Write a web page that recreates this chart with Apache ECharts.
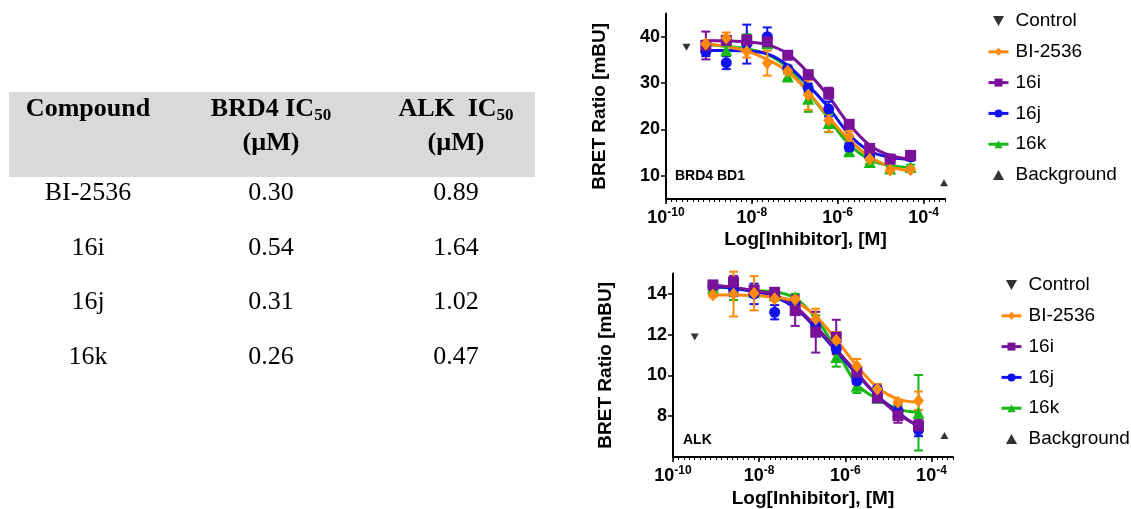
<!DOCTYPE html>
<html><head><meta charset="utf-8">
<script src="https://cdn.jsdelivr.net/npm/echarts@6/dist/echarts.min.js"></script>
<style>html,body{margin:0;padding:0;background:#fff}#c{width:1131px;height:509px}</style>
</head><body><div id="c"></div>
<script>
// ---------- data ----------
const concentrations = [8.47e-10, 2.54e-9, 7.62e-9, 2.29e-8, 6.86e-8, 2.06e-7, 6.17e-7, 1.85e-6, 5.56e-6, 1.67e-5, 5.0e-5];
const compounds = ['BI-2536', '16i', '16j', '16k'];
const brd4IC50 = ['0.30', '0.54', '0.31', '0.26'];
const alkIC50 = ['0.89', '1.64', '1.02', '0.47'];
const xTickExponents = [-10, -8, -6, -4];
const brd4YTicks = [10, 20, 30, 40];
const alkYTicks = [8, 10, 12, 14];

// BRD4 BD1 panel: means, error half-widths, fitted curve
const brd4Mean_BI2536 = [38.4, 39.7, 36.8, 34.3, 32.6, 27.4, 22.0, 18.6, 13.6, 11.2, 11.3];
const brd4Err_BI2536  = [0.8, 1.2, 1.3, 2.7, 0.6, 3.2, 2.5, 1.0, 1.0, 0.5, 0.5];
const brd4Fit_BI2536  = [38.5, 37.9, 36.9, 35.1, 32.5, 28.1, 22.6, 17.8, 14.1, 12.0, 11.0];
const brd4Mean_16i = [38.1, 39.2, 39.3, 38.9, 36.0, 31.8, 27.8, 21.1, 15.9, 13.6, 14.4];
const brd4Err_16i  = [3.0, 0.8, 0.8, 1.0, 0.5, 0.8, 1.2, 0.8, 0.5, 0.5, 0.6];
const brd4Fit_16i  = [39.2, 39.1, 38.9, 38.3, 36.3, 32.2, 27.1, 21.1, 16.6, 14.4, 13.6];
const brd4Mean_16j = [36.8, 34.4, 38.4, 40.0, 33.1, 28.9, 24.4, 16.2, 14.1, 13.6, 14.1];
const brd4Err_16j  = [1.0, 1.4, 4.2, 2.0, 0.6, 1.0, 1.6, 0.8, 0.6, 0.5, 0.8];
const brd4Fit_16j  = [37.0, 37.0, 36.9, 36.3, 33.8, 29.5, 24.7, 18.9, 15.3, 14.0, 13.5];
const brd4Mean_16k = [37.9, 37.1, 39.5, 38.6, 31.4, 26.6, 21.4, 15.3, 13.0, 11.6, 11.9];
const brd4Err_16k  = [0.8, 0.9, 1.0, 1.0, 0.6, 2.8, 2.0, 0.8, 0.8, 0.6, 0.5];
const brd4Fit_16k  = [38.3, 37.9, 37.4, 36.2, 33.3, 28.0, 22.3, 16.8, 13.5, 12.2, 11.8];
const brd4Control = [3.0e-10, 37.7];
const brd4Background = [3.0e-4, 8.5];

// ALK panel
const alkMean_BI2536 = [13.95, 13.99, 14.03, 13.76, 13.71, 12.77, 11.73, 10.46, 9.33, 8.68, 8.76];
const alkErr_BI2536  = [0.1, 1.1, 0.84, 0.1, 0.15, 0.5, 0.4, 0.35, 0.25, 0.1, 0.45];
const alkFit_BI2536  = [13.95, 13.95, 13.92, 13.84, 13.63, 12.9, 11.77, 10.47, 9.41, 8.84, 8.68];
const alkMean_16i = [14.44, 14.58, 14.19, 14.08, 13.18, 12.12, 11.88, 10.17, 8.90, 8.03, 7.53];
const alkErr_16i  = [0.1, 0.3, 0.15, 0.1, 0.75, 1.0, 0.85, 0.2, 0.15, 0.35, 0.3];
const alkFit_16i  = [14.44, 14.32, 14.16, 13.95, 13.38, 12.41, 11.27, 10.14, 9.0, 8.11, 7.54];
const alkMean_16j = [14.4, 14.2, 14.0, 13.1, 13.55, 12.45, 11.3, 9.73, 9.33, 8.27, 7.32];
const alkErr_16j  = [0.1, 0.3, 0.5, 0.35, 0.3, 0.3, 0.2, 0.15, 0.2, 0.3, 0.3];
const alkFit_16j  = [14.36, 14.28, 14.11, 13.87, 13.3, 12.33, 11.2, 10.06, 9.0, 8.19, 7.46];
const alkMean_16k = [14.3, 14.25, 14.1, 13.95, 13.85, 12.65, 10.9, 9.49, 8.9, 8.27, 8.17];
const alkErr_16k  = [0.1, 0.55, 0.2, 0.1, 0.15, 0.3, 0.47, 0.35, 0.15, 0.2, 1.85];
const alkFit_16k  = [14.32, 14.28, 14.16, 14.11, 13.79, 12.82, 11.27, 9.57, 8.84, 8.35, 8.19];
const alkControl = [3.2e-10, 11.88];
const alkBackground = [2.0e-4, 7.06];

// ---------- styling ----------
const SANS = 'Liberation Sans, Arial, sans-serif';
const SERIF = 'Liberation Serif, Times New Roman, serif';
const styles = {
  'BI-2536': { color: '#FF8A0A', symbol: 'diamond', size: [11, 13] },
  '16i': { color: '#7A1199', symbol: 'rect', size: 11 },
  '16j': { color: '#1212EE', symbol: 'circle', size: 11 },
  '16k': { color: '#15B815', symbol: 'triangle', size: 12 }
};
const drawOrder = ['16k', '16j', '16i', 'BI-2536'];
const downTri = 'path://M0,0L10,0L5,9Z';
const upTri = 'path://M5,0L10,9L0,9Z';

const panels = [
  { means: { 'BI-2536': brd4Mean_BI2536, '16i': brd4Mean_16i, '16j': brd4Mean_16j, '16k': brd4Mean_16k },
    errs: { 'BI-2536': brd4Err_BI2536, '16i': brd4Err_16i, '16j': brd4Err_16j, '16k': brd4Err_16k },
    fits: { 'BI-2536': brd4Fit_BI2536, '16i': brd4Fit_16i, '16j': brd4Fit_16j, '16k': brd4Fit_16k },
    control: brd4Control, background: brd4Background },
  { means: { 'BI-2536': alkMean_BI2536, '16i': alkMean_16i, '16j': alkMean_16j, '16k': alkMean_16k },
    errs: { 'BI-2536': alkErr_BI2536, '16i': alkErr_16i, '16j': alkErr_16j, '16k': alkErr_16k },
    fits: { 'BI-2536': alkFit_BI2536, '16i': alkFit_16i, '16j': alkFit_16j, '16k': alkFit_16k },
    control: alkControl, background: alkBackground }
];

function errRender(color) {
  return function (params, api) {
    const x = api.value(0);
    const p1 = api.coord([x, api.value(1)]);
    const p2 = api.coord([x, api.value(2)]);
    const w = 4.5;
    const st = { stroke: color, lineWidth: 2 };
    return { type: 'group', children: [
      { type: 'line', shape: { x1: p1[0], y1: p1[1], x2: p2[0], y2: p2[1] }, style: st },
      { type: 'line', shape: { x1: p1[0] - w, y1: p1[1], x2: p1[0] + w, y2: p1[1] }, style: st },
      { type: 'line', shape: { x1: p2[0] - w, y1: p2[1], x2: p2[0] + w, y2: p2[1] }, style: st }
    ] };
  };
}

const series = [];
panels.forEach((p, g) => {
  const xi = g * 3, yi = g;
  drawOrder.forEach((name, k) => {
    const s = styles[name];
    series.push({ name, type: 'line', xAxisIndex: xi, yAxisIndex: yi, smooth: 0.35, showSymbol: false,
      symbol: s.symbol, symbolSize: 8, itemStyle: { color: s.color },
      lineStyle: { color: s.color, width: 3 }, z: 2 + k * 0.01, silent: true,
      data: concentrations.map((c, i) => [c, p.fits[name][i]]) });
  });
  drawOrder.forEach((name, k) => {
    const s = styles[name];
    series.push({ name, type: 'custom', xAxisIndex: xi, yAxisIndex: yi, renderItem: errRender(s.color),
      encode: { x: 0, y: [1, 2] }, z: 3 + k * 0.01, silent: true,
      data: concentrations.map((c, i) => [c, p.means[name][i] - p.errs[name][i], p.means[name][i] + p.errs[name][i]]) });
  });
  drawOrder.forEach((name, k) => {
    const s = styles[name];
    series.push({ name, type: 'scatter', xAxisIndex: xi, yAxisIndex: yi, symbol: s.symbol, symbolSize: s.size,
      itemStyle: { color: s.color, opacity: 1 }, z: 4 + k * 0.01, silent: true,
      data: concentrations.map((c, i) => [c, p.means[name][i]]) });
  });
  series.push({ name: 'Control', type: 'scatter', xAxisIndex: xi, yAxisIndex: yi, symbol: downTri, symbolSize: [8, 7],
    itemStyle: { color: '#000' }, data: [p.control], z: 5, silent: true });
  series.push({ name: 'Background', type: 'scatter', xAxisIndex: xi, yAxisIndex: yi, symbol: upTri, symbolSize: [8, 7],
    itemStyle: { color: '#000' }, data: [p.background], z: 5, silent: true });
});

const grids = [
  { left: 666, top: 13.5, width: 279, height: 185.5 },
  { left: 673, top: 273.5, width: 280, height: 185 }
];
const xNameGap = [31, 32];
const yNameGap = [57, 58];
const xAxes = [], yAxes = [];
grids.forEach((gr, g) => {
  xAxes.push({ type: 'log', logBase: 10, gridIndex: g, min: 1e-10, max: Math.pow(10, -3.5), position: 'bottom',
    axisLine: { show: true, onZero: false, lineStyle: { color: '#000', width: 2 } },
    axisTick: { show: false }, splitLine: { show: false },
    axisLabel: { margin: 8, color: '#000',
      formatter: v => { const e = Math.log10(v), r = Math.round(e);
        if (Math.abs(e - r) > 1e-6 || xTickExponents.indexOf(r) < 0) return '';
        return '{b|10}{s|' + r + '}'; },
      rich: { b: { fontSize: 18, fontWeight: 'bold', fontFamily: SANS, color: '#000', lineHeight: 23 },
              s: { fontSize: 12, fontWeight: 'bold', fontFamily: SANS, color: '#000', verticalAlign: 'top', lineHeight: 23 } } },
    name: 'Log[Inhibitor], [M]', nameLocation: 'middle', nameGap: xNameGap[g],
    nameTextStyle: { fontSize: 19, fontWeight: 'bold', fontFamily: SANS, color: '#000' } });
  xAxes.push({ type: 'value', gridIndex: g, min: -10, max: -3.5, position: 'bottom',
    axisLine: { show: false, onZero: false }, axisLabel: { show: false }, splitLine: { show: false },
    axisTick: { show: true, length: 5, customValues: xTickExponents, lineStyle: { color: '#000', width: 1.5 } } });
  xAxes.push({ type: 'value', gridIndex: g, min: -10, max: -3.5, interval: 0.125, position: 'bottom',
    axisLine: { show: false, onZero: false }, axisLabel: { show: false }, splitLine: { show: false },
    axisTick: { show: true, length: 3, lineStyle: { color: '#000', width: 1 } } });
  const yt = g === 0 ? brd4YTicks : alkYTicks;
  yAxes.push({ type: 'value', gridIndex: g, min: g === 0 ? 5 : 6, max: g === 0 ? 45 : 15, position: 'left',
    axisLine: { show: true, onZero: false, lineStyle: { color: '#000', width: 2 } },
    axisTick: { show: true, length: 5, customValues: yt, lineStyle: { color: '#000', width: 1.5 } },
    axisLabel: { customValues: yt, margin: 6, fontSize: 18, fontWeight: 'bold', fontFamily: SANS, color: '#000' },
    splitLine: { show: false },
    name: 'BRET Ratio [mBU]', nameLocation: 'middle', nameGap: yNameGap[g], nameRotate: 90,
    nameTextStyle: { fontSize: 19, fontWeight: 'bold', fontFamily: SANS, color: '#000' } });
});

const legendNames = ['Control'].concat(compounds, ['Background']);
const legends = [{ left: 982, top: 6, pad: 2 }, { left: 995, top: 270, pad: 2 }].map(pos => ({
  orient: 'vertical', left: pos.left, top: pos.top, data: legendNames, itemWidth: 20, itemHeight: 10, itemGap: 10.8,
  selectedMode: false, lineStyle: { width: 3 },
  textStyle: { fontSize: 19, lineHeight: 20, fontFamily: SANS, color: '#000', padding: [0, 0, 0, pos.pad] }
}));

// table (left)
const colX = [88, 271, 456];
const rowY = [193, 248, 302, 357];
const graphic = [
  { type: 'rect', shape: { x: 9, y: 92, width: 526, height: 85 }, style: { fill: '#d9d9d9' }, z: 0 }
];
function txt(x, y, text, opts) {
  return Object.assign({ type: 'text', z: 1, style: Object.assign({ x, y, text, fill: '#000', align: 'center', textAlign: 'center',
    verticalAlign: 'middle', textVerticalAlign: 'middle', fontFamily: SERIF, fontSize: 26 }, opts || {}) });
}
const subRich = { h: { fontFamily: SERIF, fontSize: 26, fontWeight: 'bold', lineHeight: 30 },
                  s: { fontFamily: SERIF, fontSize: 17, fontWeight: 'bold', lineHeight: 30, verticalAlign: 'bottom' } };
graphic.push(txt(colX[0], 109, 'Compound', { fontWeight: 'bold' }));
graphic.push(txt(colX[1], 109, '{h|BRD4 IC}{s|50}', { rich: subRich }));
graphic.push(txt(colX[2], 109, '{h|ALK  IC}{s|50}', { rich: subRich }));
graphic.push(txt(colX[1], 143, '(µM)', { fontWeight: 'bold' }));
graphic.push(txt(colX[2], 143, '(µM)', { fontWeight: 'bold' }));
compounds.forEach((c, i) => {
  graphic.push(txt(colX[0], rowY[i], c));
  graphic.push(txt(colX[1], rowY[i], brd4IC50[i]));
  graphic.push(txt(colX[2], rowY[i], alkIC50[i]));
});
graphic.push({ type: 'text', z: 10, style: { x: 675, y: 176, text: 'BRD4 BD1', fill: '#000', verticalAlign: 'middle', textVerticalAlign: 'middle',
  fontFamily: SANS, fontSize: 14, fontWeight: 'bold' } });
graphic.push({ type: 'text', z: 10, style: { x: 683, y: 440, text: 'ALK', fill: '#000', verticalAlign: 'middle', textVerticalAlign: 'middle',
  fontFamily: SANS, fontSize: 14, fontWeight: 'bold' } });

const chart = echarts.init(document.getElementById('c'), null, { renderer: 'canvas' });
chart.setOption({
  animation: false,
  backgroundColor: '#fff',
  grid: grids,
  xAxis: xAxes,
  yAxis: yAxes,
  legend: legends,
  graphic: graphic,
  series: series
});
</script></body></html>
